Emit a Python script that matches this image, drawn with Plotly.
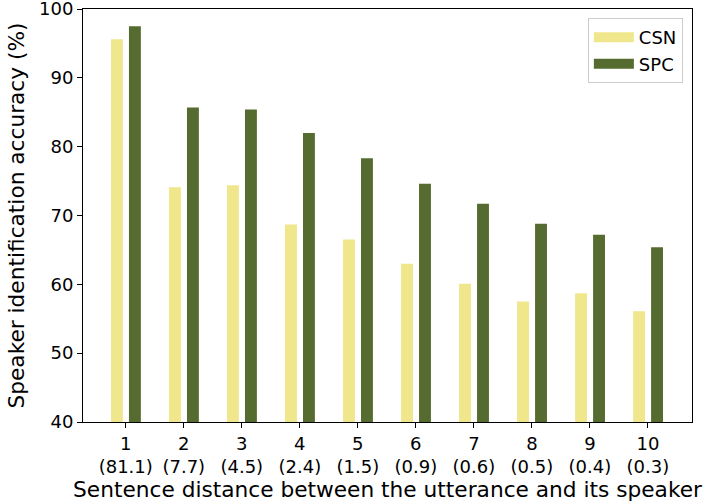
import plotly.graph_objects as go

distances = [1, 2, 3, 4, 5, 6, 7, 8, 9, 10]
proportions = ["81.1", "7.7", "4.5", "2.4", "1.5", "0.9", "0.6", "0.5", "0.4", "0.3"]
csn = [95.6, 74.1, 74.4, 68.7, 66.5, 63.0, 60.1, 57.5, 58.7, 56.1]
spc = [97.5, 85.7, 85.4, 82.0, 78.3, 74.6, 71.7, 68.8, 67.2, 65.4]
y_ticks = [40, 50, 60, 70, 80, 90, 100]
tick_text = [f"{d}<br>({p})" for d, p in zip(distances, proportions)]

CSN_COLOR = "#F0E68C"
SPC_COLOR = "#556B2F"
FONT = "DejaVu Sans"

fig = go.Figure()
fig.add_trace(go.Bar(x=distances, y=csn, name="CSN", marker_color=CSN_COLOR,
                     width=0.205, offset=-0.255, marker_line_width=0, showlegend=False))
fig.add_trace(go.Bar(x=distances, y=spc, name="SPC", marker_color=SPC_COLOR,
                     width=0.205, offset=0.055, marker_line_width=0, showlegend=False))
# legend-only entries drawn as wide patches
for name, color in [("CSN", CSN_COLOR), ("SPC", SPC_COLOR)]:
    fig.add_trace(go.Scatter(x=[None], y=[None], mode="lines", name=name,
                             line=dict(color=color, width=14)))

fig.update_layout(
    width=711, height=504,
    margin=dict(l=83, r=19, t=9, b=82),
    plot_bgcolor="white", paper_bgcolor="white",
    barmode="overlay",
    font=dict(family=FONT, size=18, color="black"),
    legend=dict(x=0.985, y=0.978, xanchor="right", yanchor="top",
                bordercolor="#cccccc", borderwidth=1, bgcolor="white",
                font=dict(size=18), itemwidth=40),
    xaxis=dict(range=[0.263, 10.76], tickmode="array", tickvals=distances,
               ticktext=tick_text, showline=True, linecolor="black", linewidth=1,
               mirror=True, ticks="outside", ticklen=5, tickcolor="black",
               showgrid=False, zeroline=False, automargin="bottom",
               title=dict(text="Sentence distance between the utterance and its speaker",
                          font=dict(size=21.7), standoff=0),
               tickfont=dict(size=18)),
    yaxis=dict(range=[40, 100.0001], tickmode="array", tickvals=y_ticks,
               ticklabeloverflow="allow", automargin="left",
               showline=True, linecolor="black", linewidth=1, mirror=True,
               ticks="outside", ticklen=5, tickcolor="black",
               showgrid=False, zeroline=False,
               title=dict(text="Speaker identification accuracy (%)",
                          font=dict(size=21.7), standoff=8),
               tickfont=dict(size=18)),
)
fig.write_html("out.html")
